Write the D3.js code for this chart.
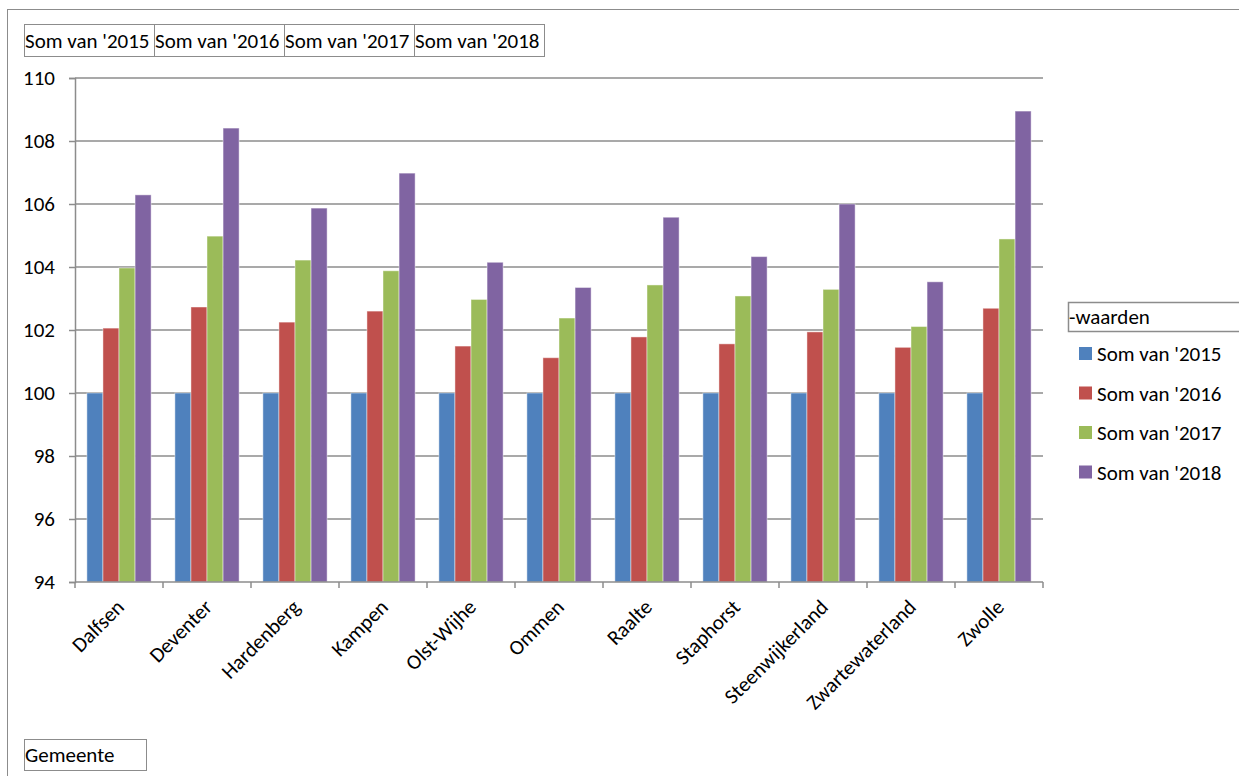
<!DOCTYPE html>
<html>
<head>
<meta charset="utf-8">
<script src="https://cdn.jsdelivr.net/npm/d3@7"></script>
<style>
  body { margin: 0; background: #fff; }
  text { font-family: Carlito, Calibri, Lato, sans-serif; fill: #000; }
</style>
</head>
<body>
<div id="vis"></div>
<script>
const gemeenten = ["Dalfsen", "Deventer", "Hardenberg", "Kampen", "Olst-Wijhe", "Ommen",
  "Raalte", "Staphorst", "Steenwijkerland", "Zwartewaterland", "Zwolle"];
const reeksen = ["Som van '2015", "Som van '2016", "Som van '2017", "Som van '2018"];
const waarden2015 = [100, 100, 100, 100, 100, 100, 100, 100, 100, 100, 100];
const waarden2016 = [102.06, 102.73, 102.25, 102.6, 101.49, 101.12, 101.78, 101.56, 101.94, 101.45, 102.69];
const waarden2017 = [103.97, 104.98, 104.22, 103.88, 102.97, 102.38, 103.43, 103.08, 103.29, 102.11, 104.89];
const waarden2018 = [106.29, 108.41, 105.87, 106.98, 104.15, 103.35, 105.58, 104.33, 106.0, 103.53, 108.95];
const yTicks = [94, 96, 98, 100, 102, 104, 106, 108, 110];
const kleuren = ["#4F81BD", "#C0504D", "#9BBB59", "#8064A2"];

const alleWaarden = [waarden2015, waarden2016, waarden2017, waarden2018];

const WIDTH = 1239;
const HEIGHT = 776;
const MARGIN = { top: 78, bottom: 194, left: 75, right: 196 };
const W = WIDTH - MARGIN.left - MARGIN.right;
const H = HEIGHT - MARGIN.top - MARGIN.bottom;
const FONT = 21;
const GRIJS = "#8c8c8c";

const svg = d3.select("#vis").append("svg")
  .attr("width", WIDTH)
  .attr("height", HEIGHT);

// buitenrand
svg.append("rect")
  .attr("x", 7.5).attr("y", 9.5)
  .attr("width", WIDTH).attr("height", HEIGHT)
  .attr("fill", "none").attr("stroke", GRIJS);

const xScale = d3.scaleBand().domain(gemeenten).range([0, W]);
const xInner = d3.scaleBand().domain(reeksen)
  .range([xScale.bandwidth() * 0.135, xScale.bandwidth() * 0.865]);
const yScale = d3.scaleLinear().domain([94, 110]).range([H, 0]);

const plot = svg.append("g")
  .attr("transform", `translate(${MARGIN.left}, ${MARGIN.top})`);

// rasterlijnen
plot.selectAll("line.grid")
  .data(yTicks.filter(t => t !== 94))
  .join("line")
  .attr("class", "grid")
  .attr("x1", 0).attr("x2", W)
  .attr("y1", d => yScale(d)).attr("y2", d => yScale(d))
  .attr("stroke", GRIJS).attr("stroke-width", 1.5);

// staven
const groepen = plot.selectAll("g.groep")
  .data(gemeenten)
  .join("g")
  .attr("class", "groep")
  .attr("transform", d => `translate(${xScale(d)}, 0)`);

groepen.selectAll("rect")
  .data((d, i) => reeksen.map((r, j) => ({ reeks: r, waarde: alleWaarden[j][i], kleur: kleuren[j] })))
  .join("rect")
  .attr("x", d => xInner(d.reeks))
  .attr("y", d => yScale(d.waarde))
  .attr("width", xInner.bandwidth())
  .attr("height", d => H - yScale(d.waarde))
  .attr("fill", d => d.kleur)
  .attr("stroke", "#ffffff")
  .attr("stroke-opacity", 0.45)
  .attr("stroke-width", 1);

// y-as
const yAs = plot.append("g")
  .call(d3.axisLeft(yScale).tickValues(yTicks).tickSize(6).tickPadding(14));
yAs.select(".domain").attr("stroke", GRIJS).attr("stroke-width", 1.5);
yAs.selectAll(".tick line").attr("stroke", GRIJS).attr("stroke-width", 1.5);
yAs.selectAll(".tick text")
  .attr("font-size", FONT)
  .style("font-family", "Carlito, Calibri, Lato, sans-serif")
  .attr("fill", "#000");

// x-as
const xAs = plot.append("g")
  .attr("transform", `translate(0, ${H})`);
xAs.append("line")
  .attr("x1", 0).attr("x2", W)
  .attr("stroke", GRIJS).attr("stroke-width", 1.5);
xAs.selectAll("line.tick")
  .data(d3.range(gemeenten.length + 1))
  .join("line")
  .attr("class", "tick")
  .attr("x1", i => i * xScale.step()).attr("x2", i => i * xScale.step())
  .attr("y1", 0).attr("y2", 6)
  .attr("stroke", GRIJS).attr("stroke-width", 1.5);
xAs.selectAll("text")
  .data(gemeenten)
  .join("text")
  .attr("transform", d => `translate(${xScale(d) + xScale.bandwidth() / 2 - 4}, 16) rotate(-45)`)
  .attr("text-anchor", "end")
  .attr("dy", "0.7em")
  .attr("font-size", FONT)
  .text(d => d);

// veldknoppen bovenaan
const knoppen = svg.append("g").attr("transform", "translate(24, 24)");
knoppen.selectAll("g")
  .data(reeksen)
  .join("g")
  .attr("transform", (d, i) => `translate(${i * 130}, 0)`)
  .each(function(d) {
    d3.select(this).append("rect")
      .attr("x", 0.5).attr("y", 0.5)
      .attr("width", 130).attr("height", 32)
      .attr("fill", "#fff").attr("stroke", GRIJS);
    d3.select(this).append("text")
      .attr("x", 1).attr("y", 24)
      .attr("font-size", FONT)
      .text(d);
  });

// legenda
const legenda = svg.append("g").attr("transform", "translate(1068, 302)");
legenda.append("rect")
  .attr("x", 0.5).attr("y", 0.5)
  .attr("width", 172).attr("height", 29)
  .attr("fill", "#fff").attr("stroke", GRIJS).attr("stroke-width", 1.5);
legenda.append("text")
  .attr("x", 1).attr("y", 22)
  .attr("font-size", FONT)
  .text("-waarden");

legenda.selectAll("g.item")
  .data(reeksen)
  .join("g")
  .attr("class", "item")
  .attr("transform", (d, i) => `translate(0, ${45 + i * 39.5})`)
  .each(function(d, i) {
    d3.select(this).append("rect")
      .attr("x", 11).attr("y", 0)
      .attr("width", 13).attr("height", 13)
      .attr("fill", kleuren[i]);
    d3.select(this).append("text")
      .attr("x", 29).attr("y", 14)
      .attr("font-size", FONT)
      .text(d);
  });

// Gemeente knop
const gem = svg.append("g").attr("transform", "translate(24, 739)");
gem.append("rect")
  .attr("x", 0.5).attr("y", 0.5)
  .attr("width", 122).attr("height", 31)
  .attr("fill", "#fff").attr("stroke", GRIJS);
gem.append("text")
  .attr("x", 1).attr("y", 23)
  .attr("font-size", FONT)
  .text("Gemeente");
</script>
</body>
</html>
